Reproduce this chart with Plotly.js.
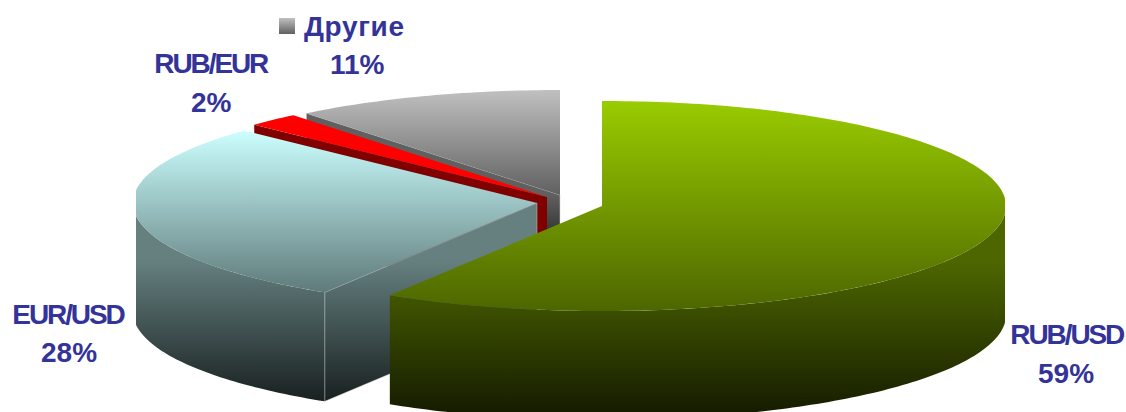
<!DOCTYPE html>
<html>
<head>
<meta charset="utf-8">
<script src="https://cdn.plot.ly/plotly-3.0.1.min.js"></script>
<style>html,body{margin:0;padding:0;background:#fff}#chart{width:1126px;height:412px}</style>
</head>
<body>
<div id="chart"></div>
<script>
// Data (clockwise from 12 o'clock); labels show them rounded
const categories = ['RUB/USD', 'EUR/USD', 'RUB/EUR', 'Другие'];
const shares = [58.8, 28.3, 2.1, 10.8];

// Style and geometry of the drawing
const apexX = [602, 537, 547, 560];
const apexY = [206, 203, 197, 195];
const radiusX = 404, radiusY = 105, depth = 109;
const leftLimit = 136, rightLimit = 1005;
const topColors = [['#99cc00', '#4d6600'], ['#ccffff', '#5f7a7a'], ['#ff0000', '#ff0000'], ['#c0c0c0', '#606060']];
const sideColors = [['#4d6600', '#000000'], ['#668080', '#141a1a'], ['#800000', '#800000'], ['#606060', '#333333']];
const sideStart = [262, 260, 197, 195];
const sideStop = [470, 410, 300, 235];
const labelX = [1067, 68, 211, 354];
const pctX = [1066, 69, 211, 357];
const nameY = [334, 314, 63, 26];
const pctY = [373, 352, 102, 64];
const labelColor = '#333399';
const labelFont = {family: '"Liberation Sans", Arial, sans-serif', size: 28, color: labelColor, weight: 700};

// Cumulative angles
const starts = [], ends = [];
let acc = 0;
shares.forEach(v => { starts.push(acc * 3.6); acc += v; ends.push(acc * 3.6); });

function rim(i, deg, dz) {
  const r = deg * Math.PI / 180;
  const x = apexX[i] + radiusX * Math.sin(r);
  return [Math.min(rightLimit, Math.max(leftLimit, x)), apexY[i] - radiusY * Math.cos(r) + (dz || 0)];
}
function arc(i, a, b, dz) {
  const pts = [];
  const n = Math.max(2, Math.ceil(Math.abs(b - a)));
  for (let k = 0; k <= n; k++) pts.push(rim(i, a + (b - a) * k / n, dz));
  return pts;
}
function poly(pts, colors, y0, y1, line) {
  const closed = pts.concat([pts[0]]);
  return {
    type: 'scatter', mode: line ? 'lines' : 'none', hoverinfo: 'skip', showlegend: false,
    x: closed.map(p => p[0]), y: closed.map(p => p[1]),
    fill: 'toself', line: line || {width: 0},
    fillgradient: {type: 'vertical', start: y0, stop: y1,
      colorscale: [[0, colors[0]], [1, colors[1]]]}
  };
}

const traces = [];
const edge = {color: 'rgba(205,205,205,0.6)', width: 0.8};
// Painter's order: back slices first
[3, 2, 1, 0].forEach(i => {
  const a = starts[i], b = ends[i];
  const ax = apexX[i], ay = apexY[i];
  // outer wall, only the part facing the viewer
  const wa = Math.max(a, 90), wb = Math.min(b, 270);
  if (wb > wa) {
    const wall = arc(i, wa, wb, 0).concat(arc(i, wb, wa, depth));
    traces.push(poly(wall, sideColors[i], sideStart[i], sideStop[i]));
  }
  // cut face on the starting radius
  if (i !== 0) {
    const p = rim(i, a, 0);
    const face = [[ax, ay], p, [p[0], p[1] + depth], [ax, ay + depth]];
    traces.push(poly(face, sideColors[i], sideStart[i], sideStop[i], i === 2 ? null : edge));
  }
  // top face
  const top = [[ax, ay]].concat(arc(i, a, b, 0));
  const ys = top.map(p => p[1]);
  traces.push(poly(top, topColors[i], Math.min.apply(null, ys), Math.max.apply(null, ys)));
});

// Legend key next to "Другие"
traces.push({
  type: 'scatter', mode: 'markers', hoverinfo: 'skip', showlegend: false,
  x: [287], y: [26],
  marker: {symbol: 'square', size: 16, color: topColors[3][0], line: {width: 0},
    gradient: {type: 'vertical', color: topColors[3][1]}}
});

const annotations = [];
categories.forEach((c, i) => {
  annotations.push({xref: 'x', yref: 'y', x: labelX[i], y: nameY[i], text: c, showarrow: false,
    xanchor: 'center', yanchor: 'middle', font: labelFont});
  annotations.push({xref: 'x', yref: 'y', x: pctX[i], y: pctY[i], text: Math.round(shares[i]) + '%', showarrow: false,
    xanchor: 'center', yanchor: 'middle', font: labelFont});
});

const hidden = {visible: false, showgrid: false, zeroline: false, fixedrange: true};
Plotly.newPlot('chart', traces, {
  width: 1126, height: 412,
  margin: {l: 0, r: 0, t: 0, b: 0},
  paper_bgcolor: '#fff', plot_bgcolor: '#fff',
  showlegend: false,
  xaxis: Object.assign({range: [0, 1126]}, hidden),
  yaxis: Object.assign({range: [412, 0]}, hidden),
  annotations
}, {displayModeBar: false, staticPlot: true}).then(() => {
  document.querySelectorAll('#chart .annotation-text').forEach(t => {
    const s = t.textContent;
    t.style.letterSpacing = s.indexOf('/') >= 0 ? '-2.1px' : (s.indexOf('%') >= 0 ? '0' : '0.7px');
  });
});
</script>
</body>
</html>
